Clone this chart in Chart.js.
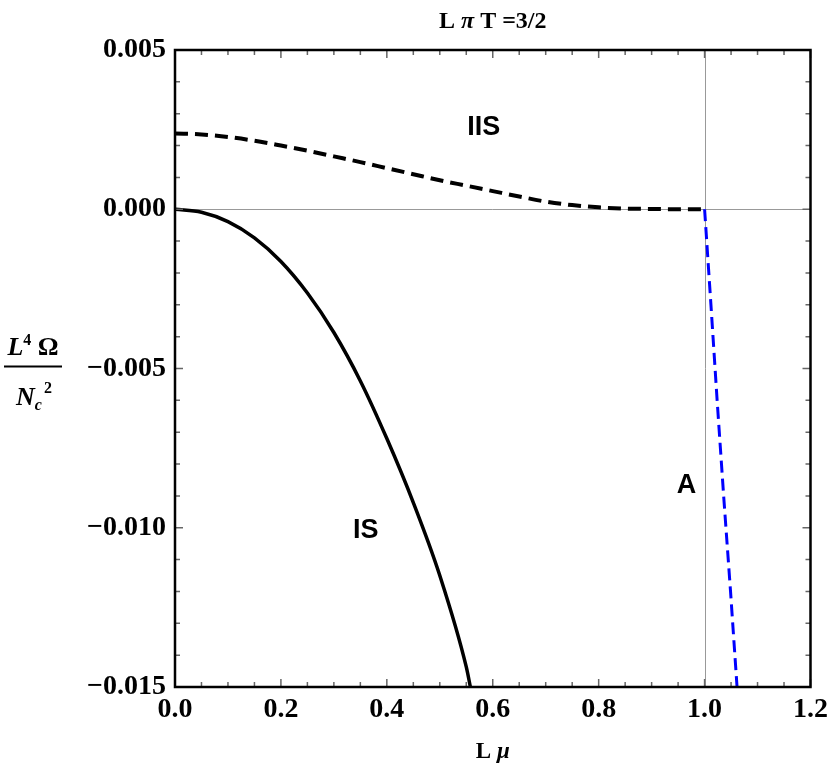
<!DOCTYPE html>
<html>
<head>
<meta charset="utf-8">
<script src="https://cdn.jsdelivr.net/npm/chart.js@4.4.1/dist/chart.umd.min.js"></script>
<style>
html,body{margin:0;padding:0;background:#fff;}
#c{display:block;}
</style>
</head>
<body>
<canvas id="c" width="834" height="767"></canvas>
<script>
// ---- data ----
const iisX = [0, 0.05, 0.1, 0.15, 0.2, 0.25, 0.3, 0.35, 0.4, 0.45, 0.5, 0.55, 0.6, 0.65, 0.7, 0.75, 0.8, 0.85, 0.9, 0.95, 1.0];
const iisY = [0.00238, 0.00235, 0.00227, 0.00215, 0.00200, 0.00184, 0.00166, 0.00148, 0.00129, 0.00110, 0.00091, 0.00074, 0.00057, 0.00040, 0.00024, 0.00013, 0.00006, 0.00002, 0.00001, 0.0, 0.0];
const isX = [0, 0.05, 0.1, 0.15, 0.2, 0.25, 0.3, 0.35, 0.4, 0.45, 0.5, 0.55, 0.558];
const isY = [0, -0.000095, -0.00039, -0.0009, -0.00164, -0.00263, -0.00387, -0.00539, -0.0072, -0.00921, -0.0115, -0.01437, -0.01502];
const aX = [1.0, 1.012, 1.0237, 1.036, 1.049, 1.0613];
const aY = [0.0, -0.003, -0.006, -0.009, -0.012, -0.015];
const xTicks = [0, 0.2, 0.4, 0.6, 0.8, 1.0, 1.2];
const yTicks = [-0.015, -0.010, -0.005, 0.000, 0.005];
const regionLabels = ['IIS', 'IS', 'A'];
const titleParts = ['L ', 'π', ' T =3/2'];

function pts(xs, ys){ return xs.map((x,i)=>({x:x, y:ys[i]})); }

const serif = '"Liberation Serif", "Times New Roman", serif';
const sans = '"Liberation Sans", Arial, sans-serif';

const decorPlugin = {
  id: 'decor',
  beforeDatasetsDraw(chart){
    const {ctx, chartArea:a, scales:{x, y}} = chart;
    ctx.save();
    ctx.strokeStyle = '#999';
    ctx.lineWidth = 1;
    const px1 = Math.round(x.getPixelForValue(1.0)) + 0.5;
    const py0 = Math.round(y.getPixelForValue(0)) + 0.5;
    ctx.beginPath();
    ctx.moveTo(px1, a.top); ctx.lineTo(px1, a.bottom);
    ctx.moveTo(a.left, py0); ctx.lineTo(a.right, py0);
    ctx.stroke();
    ctx.restore();
  },
  afterDraw(chart){
    const {ctx, chartArea:a, scales:{x, y}} = chart;
    ctx.save();
    ctx.strokeStyle = '#666';
    ctx.lineWidth = 1.5;
    ctx.beginPath();
    for (let i = 0; i <= 24; i++){
      const v = i * 0.05;
      const major = (i % 4 === 0);
      const len = major ? 8 : 5;
      const p = x.getPixelForValue(v);
      ctx.moveTo(p, a.bottom); ctx.lineTo(p, a.bottom - len);
      ctx.moveTo(p, a.top); ctx.lineTo(p, a.top + len);
    }
    for (let i = 0; i <= 20; i++){
      const v = -0.015 + i * 0.001;
      const major = (i % 5 === 0);
      const len = major ? 8 : 5;
      const p = y.getPixelForValue(v);
      ctx.moveTo(a.left, p); ctx.lineTo(a.left + len, p);
      ctx.moveTo(a.right, p); ctx.lineTo(a.right - len, p);
    }
    ctx.stroke();
    ctx.strokeStyle = '#000';
    ctx.lineWidth = 2.5;
    ctx.strokeRect(a.left, a.top, a.right - a.left, a.bottom - a.top);

    ctx.fillStyle = '#000';
    ctx.font = 'bold 27px ' + sans;
    ctx.textAlign = 'center';
    ctx.textBaseline = 'middle';
    const lp = [[0.583, 0.00259], [0.360, -0.01005], [0.966, -0.00863]];
    regionLabels.forEach((t,i)=>{
      ctx.fillText(t, x.getPixelForValue(lp[i][0]), y.getPixelForValue(lp[i][1]) + 1);
    });

    ctx.textBaseline = 'alphabetic';
    ctx.textAlign = 'left';
    const tfonts = ['bold 24px ' + serif, 'bold italic 24px ' + serif, 'bold 24px ' + serif];
    let tw = 0;
    titleParts.forEach((t,i)=>{ ctx.font = tfonts[i]; tw += ctx.measureText(t).width; });
    let tx = (a.left + a.right) / 2 - tw / 2;
    titleParts.forEach((t,i)=>{ ctx.font = tfonts[i]; ctx.fillText(t, tx, 28); tx += ctx.measureText(t).width; });

    const xparts = [['L ', 'bold 23px ' + serif], ['μ', 'bold italic 23px ' + serif]];
    let xw = 0;
    xparts.forEach(p=>{ ctx.font = p[1]; xw += ctx.measureText(p[0]).width; });
    let xx = (a.left + a.right) / 2 - xw / 2;
    xparts.forEach(p=>{ ctx.font = p[1]; ctx.fillText(p[0], xx, 758); xx += ctx.measureText(p[0]).width; });

    const cy = (a.top + a.bottom) / 2 - 2;
    const cx = 33;
    const big = 26, small = 16;
    const num = [['L', 'bold italic ' + big + 'px ' + serif, 0], ['4', 'bold ' + small + 'px ' + serif, -10], [' Ω', 'bold ' + big + 'px ' + serif, 0]];
    let nw = 0;
    num.forEach(p=>{ ctx.font = p[1]; nw += ctx.measureText(p[0]).width; });
    let nx = cx - nw / 2;
    num.forEach(p=>{ ctx.font = p[1]; ctx.fillText(p[0], nx, cy - 12 + p[2]); nx += ctx.measureText(p[0]).width; });
    ctx.lineWidth = 2;
    ctx.beginPath();
    ctx.moveTo(4, cy); ctx.lineTo(62, cy);
    ctx.stroke();
    const den = [['N', 'bold italic ' + big + 'px ' + serif, 0], ['c', 'bold italic ' + small + 'px ' + serif, 5], ['2', 'bold ' + small + 'px ' + serif, -12]];
    let dw = 0;
    den.forEach(p=>{ ctx.font = p[1]; dw += ctx.measureText(p[0]).width; });
    let dx = cx - dw / 2;
    den.forEach((p,i)=>{
      ctx.font = p[1];
      ctx.fillText(p[0], dx, cy + 38 + p[2]);
      dx += ctx.measureText(p[0]).width + (i === 1 ? 2 : 0);
    });
    ctx.restore();
  }
};

new Chart(document.getElementById('c'), {
  type: 'line',
  data: {
    datasets: [
      { label: 'IIS', data: pts(iisX, iisY), borderColor: '#000', borderWidth: 4, borderDash: [13, 7], pointRadius: 0, fill: false, tension: 0.4, cubicInterpolationMode: 'monotone' },
      { label: 'IS', data: pts(isX, isY), borderColor: '#000', borderWidth: 3.5, pointRadius: 0, fill: false, tension: 0.4, cubicInterpolationMode: 'monotone' },
      { label: 'A', data: pts(aX, aY), borderColor: '#0000ff', borderWidth: 3, borderDash: [12, 6], pointRadius: 0, fill: false, tension: 0 }
    ]
  },
  options: {
    responsive: false,
    animation: false,
    devicePixelRatio: 1,
    layout: { padding: { top: 50, right: 21, left: 0, bottom: 0 } },
    plugins: { legend: { display: false }, tooltip: { enabled: false }, title: { display: false } },
    scales: {
      x: {
        type: 'linear', min: 0, max: 1.2,
        afterBuildTicks: s => { s.ticks = xTicks.map(v => ({ value: v })); },
        afterFit: s => { s.height = 80; },
        grid: { display: false, drawTicks: false },
        border: { display: false },
        ticks: { color: '#000', padding: 6, maxRotation: 0, autoSkip: false,
          font: { family: serif, weight: 'bold', size: 28 },
          callback: v => Number(v).toFixed(1) }
      },
      y: {
        type: 'linear', min: -0.015, max: 0.005,
        afterBuildTicks: s => { s.ticks = yTicks.map(v => ({ value: v })); },
        afterFit: s => { s.width = 175; },
        grid: { display: false, drawTicks: false },
        border: { display: false },
        ticks: { color: '#000', padding: 9, autoSkip: false,
          font: { family: serif, weight: 'bold', size: 28 },
          callback: v => { const n = Number(v); const s = Math.abs(n).toFixed(3); return (n < -1e-12 ? '\u2212' : '') + s; } }
      }
    }
  },
  plugins: [decorPlugin]
});
</script>
</body>
</html>
